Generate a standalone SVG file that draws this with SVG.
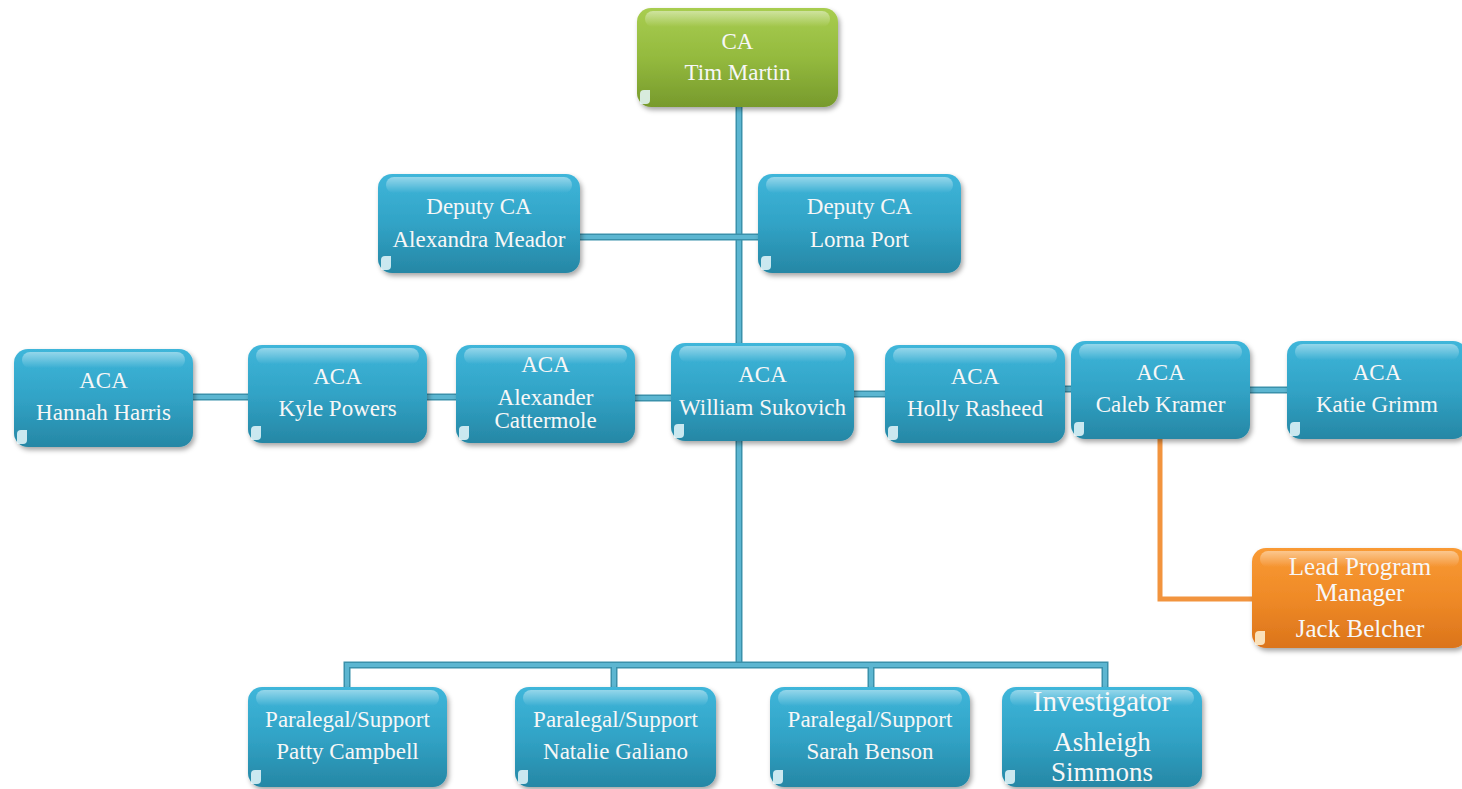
<svg xmlns="http://www.w3.org/2000/svg" xmlns:xlink="http://www.w3.org/1999/xlink" width="1462" height="789" viewBox="0 0 1462 789">
  <style>
    .box { stroke: none; filter: url(#shadow); }
    .blue { fill: url(#blueFill); }
    .green { fill: url(#greenFill); }
    .orange { fill: url(#orangeFill); }
    .gloss { fill: url(#gloss); }
    .glint { fill: #e8f8fc; opacity: 0.85; }
    .label { font-family: "Liberation Serif", "DejaVu Serif", serif; font-size: 23px; fill: #f7f7f7; text-anchor: middle; }
    .big { font-size: 29px; }
    .name-big { font-size: 27px; }
    .mid { font-size: 25px; }
    .wire-edge { fill: none; stroke: #3a91ab; stroke-width: 7; }
    .wire-core { fill: none; stroke: #5cb6d1; stroke-width: 4; }
    .wire-orange { fill: none; stroke: #f2943e; stroke-width: 5; }
  </style>
  <defs>
    <linearGradient id="blueFill" x1="0" y1="0" x2="0" y2="1">
      <stop offset="0" stop-color="#3fb6da"/>
      <stop offset="0.5" stop-color="#31a3c6"/>
      <stop offset="1" stop-color="#2687a5"/>
    </linearGradient>
    <linearGradient id="greenFill" x1="0" y1="0" x2="0" y2="1">
      <stop offset="0" stop-color="#a8cd50"/>
      <stop offset="0.5" stop-color="#94ba3e"/>
      <stop offset="1" stop-color="#779a2c"/>
    </linearGradient>
    <linearGradient id="orangeFill" x1="0" y1="0" x2="0" y2="1">
      <stop offset="0" stop-color="#f99a34"/>
      <stop offset="0.5" stop-color="#ef8a27"/>
      <stop offset="1" stop-color="#db741b"/>
    </linearGradient>
    <linearGradient id="gloss" x1="0" y1="0" x2="0" y2="1">
      <stop offset="0" stop-color="#ffffff" stop-opacity="0.45"/>
      <stop offset="1" stop-color="#ffffff" stop-opacity="0"/>
    </linearGradient>
    <filter id="shadow" x="-10%" y="-10%" width="125%" height="130%">
      <feDropShadow dx="2" dy="3" stdDeviation="2.5" flood-color="#000000" flood-opacity="0.35"/>
    </filter>
    <!-- connector geometry, drawn twice for a bevelled look -->
    <path id="w-trunk" d="M739,107 V665"/>
    <path id="w-deputy" d="M580,237 H758"/>
    <path id="w-a1" d="M193,397 H248"/>
    <path id="w-a2" d="M427,397 H456"/>
    <path id="w-a3" d="M635,398 H671"/>
    <path id="w-a4" d="M854,394 H885"/>
    <path id="w-a5" d="M1065,389 H1071"/>
    <path id="w-a6" d="M1250,390 H1287"/>
    <path id="w-bus" d="M347,687 V665 H1105 V687 M614,665 V687 M871,665 V687"/>
  </defs>

  <rect width="1462" height="789" fill="#ffffff"/>

  <g id="connectors">
    <use xlink:href="#w-trunk" class="wire-edge"/>
    <use xlink:href="#w-trunk" class="wire-core"/>
    <use xlink:href="#w-deputy" class="wire-edge"/>
    <use xlink:href="#w-deputy" class="wire-core"/>
    <use xlink:href="#w-a1" class="wire-edge"/>
    <use xlink:href="#w-a1" class="wire-core"/>
    <use xlink:href="#w-a2" class="wire-edge"/>
    <use xlink:href="#w-a2" class="wire-core"/>
    <use xlink:href="#w-a3" class="wire-edge"/>
    <use xlink:href="#w-a3" class="wire-core"/>
    <use xlink:href="#w-a4" class="wire-edge"/>
    <use xlink:href="#w-a4" class="wire-core"/>
    <use xlink:href="#w-a5" class="wire-edge"/>
    <use xlink:href="#w-a5" class="wire-core"/>
    <use xlink:href="#w-a6" class="wire-edge"/>
    <use xlink:href="#w-a6" class="wire-core"/>
    <use xlink:href="#w-bus" class="wire-edge"/>
    <use xlink:href="#w-bus" class="wire-core"/>
    <path class="wire-orange" d="M1160,439 V599 H1252"/>
  </g>

  <!-- top: CA -->
  <g id="ca-tim-martin">
    <rect class="box green" x="637" y="8" width="201" height="99" rx="14"/>
    <rect class="gloss" x="645" y="11" width="185" height="16" rx="8"/>
    <path class="glint" d="M640,104 v-10 a4,4 0 0 1 4,-4 h6 v10 a4,4 0 0 1 -4,4 z"/>
    <text class="label" x="737.5" y="49">CA</text>
    <text class="label" x="737.5" y="80">Tim Martin</text>
  </g>

  <!-- deputies -->
  <g id="deputy-alexandra-meador">
    <rect class="box blue" x="378" y="174" width="202" height="99" rx="14"/>
    <rect class="gloss" x="386" y="177" width="186" height="16" rx="8"/>
    <path class="glint" d="M381,270 v-10 a4,4 0 0 1 4,-4 h6 v10 a4,4 0 0 1 -4,4 z"/>
    <text class="label" x="479" y="214">Deputy CA</text>
    <text class="label" x="479" y="247">Alexandra Meador</text>
  </g>
  <g id="deputy-lorna-port">
    <rect class="box blue" x="758" y="174" width="203" height="99" rx="14"/>
    <rect class="gloss" x="766" y="177" width="187" height="16" rx="8"/>
    <path class="glint" d="M761,270 v-10 a4,4 0 0 1 4,-4 h6 v10 a4,4 0 0 1 -4,4 z"/>
    <text class="label" x="859.5" y="214">Deputy CA</text>
    <text class="label" x="859.5" y="247">Lorna Port</text>
  </g>

  <!-- ACA row -->
  <g id="aca-hannah-harris">
    <rect class="box blue" x="14" y="349" width="179" height="98" rx="14"/>
    <rect class="gloss" x="22" y="352" width="163" height="16" rx="8"/>
    <path class="glint" d="M17,444 v-10 a4,4 0 0 1 4,-4 h6 v10 a4,4 0 0 1 -4,4 z"/>
    <text class="label" x="103.5" y="388">ACA</text>
    <text class="label" x="103.5" y="420">Hannah Harris</text>
  </g>
  <g id="aca-kyle-powers">
    <rect class="box blue" x="248" y="345" width="179" height="98" rx="14"/>
    <rect class="gloss" x="256" y="348" width="163" height="16" rx="8"/>
    <path class="glint" d="M251,440 v-10 a4,4 0 0 1 4,-4 h6 v10 a4,4 0 0 1 -4,4 z"/>
    <text class="label" x="337.5" y="384">ACA</text>
    <text class="label" x="337.5" y="416">Kyle Powers</text>
  </g>
  <g id="aca-alexander-cattermole">
    <rect class="box blue" x="456" y="345" width="179" height="98" rx="14"/>
    <rect class="gloss" x="464" y="348" width="163" height="16" rx="8"/>
    <path class="glint" d="M459,440 v-10 a4,4 0 0 1 4,-4 h6 v10 a4,4 0 0 1 -4,4 z"/>
    <text class="label" x="545.5" y="372">ACA</text>
    <text class="label" x="545.5" y="405">Alexander</text>
    <text class="label" x="545.5" y="428">Cattermole</text>
  </g>
  <g id="aca-william-sukovich">
    <rect class="box blue" x="671" y="343" width="183" height="98" rx="14"/>
    <rect class="gloss" x="679" y="346" width="167" height="16" rx="8"/>
    <path class="glint" d="M674,438 v-10 a4,4 0 0 1 4,-4 h6 v10 a4,4 0 0 1 -4,4 z"/>
    <text class="label" x="762.5" y="382">ACA</text>
    <text class="label" x="762.5" y="415">William Sukovich</text>
  </g>
  <g id="aca-holly-rasheed">
    <rect class="box blue" x="885" y="345" width="180" height="98" rx="14"/>
    <rect class="gloss" x="893" y="348" width="164" height="16" rx="8"/>
    <path class="glint" d="M888,440 v-10 a4,4 0 0 1 4,-4 h6 v10 a4,4 0 0 1 -4,4 z"/>
    <text class="label" x="975" y="384">ACA</text>
    <text class="label" x="975" y="416">Holly Rasheed</text>
  </g>
  <g id="aca-caleb-kramer">
    <rect class="box blue" x="1071" y="341" width="179" height="98" rx="14"/>
    <rect class="gloss" x="1079" y="344" width="163" height="16" rx="8"/>
    <path class="glint" d="M1074,436 v-10 a4,4 0 0 1 4,-4 h6 v10 a4,4 0 0 1 -4,4 z"/>
    <text class="label" x="1160.5" y="380">ACA</text>
    <text class="label" x="1160.5" y="412">Caleb Kramer</text>
  </g>
  <g id="aca-katie-grimm">
    <rect class="box blue" x="1287" y="341" width="180" height="98" rx="14"/>
    <rect class="gloss" x="1295" y="344" width="164" height="16" rx="8"/>
    <path class="glint" d="M1290,436 v-10 a4,4 0 0 1 4,-4 h6 v10 a4,4 0 0 1 -4,4 z"/>
    <text class="label" x="1377" y="380">ACA</text>
    <text class="label" x="1377" y="412">Katie Grimm</text>
  </g>

  <!-- program manager -->
  <g id="lead-program-manager">
    <rect class="box orange" x="1252" y="548" width="215" height="100" rx="14"/>
    <rect class="gloss" x="1260" y="551" width="199" height="16" rx="8"/>
    <path class="glint" d="M1255,645 v-10 a4,4 0 0 1 4,-4 h6 v10 a4,4 0 0 1 -4,4 z" style="fill:#fff3d6"/>
    <text class="label mid" x="1360" y="575">Lead Program</text>
    <text class="label mid" x="1360" y="601">Manager</text>
    <text class="label mid" x="1360" y="637">Jack Belcher</text>
  </g>

  <!-- support staff -->
  <g id="paralegal-patty-campbell">
    <rect class="box blue" x="248" y="687" width="199" height="100" rx="14"/>
    <rect class="gloss" x="256" y="690" width="183" height="16" rx="8"/>
    <path class="glint" d="M251,784 v-10 a4,4 0 0 1 4,-4 h6 v10 a4,4 0 0 1 -4,4 z"/>
    <text class="label" x="347.5" y="727">Paralegal/Support</text>
    <text class="label" x="347.5" y="759">Patty Campbell</text>
  </g>
  <g id="paralegal-natalie-galiano">
    <rect class="box blue" x="515" y="687" width="201" height="100" rx="14"/>
    <rect class="gloss" x="523" y="690" width="185" height="16" rx="8"/>
    <path class="glint" d="M518,784 v-10 a4,4 0 0 1 4,-4 h6 v10 a4,4 0 0 1 -4,4 z"/>
    <text class="label" x="615.5" y="727">Paralegal/Support</text>
    <text class="label" x="615.5" y="759">Natalie Galiano</text>
  </g>
  <g id="paralegal-sarah-benson">
    <rect class="box blue" x="770" y="687" width="200" height="100" rx="14"/>
    <rect class="gloss" x="778" y="690" width="184" height="16" rx="8"/>
    <path class="glint" d="M773,784 v-10 a4,4 0 0 1 4,-4 h6 v10 a4,4 0 0 1 -4,4 z"/>
    <text class="label" x="870" y="727">Paralegal/Support</text>
    <text class="label" x="870" y="759">Sarah Benson</text>
  </g>
  <g id="investigator-ashleigh-simmons">
    <rect class="box blue" x="1002" y="687" width="200" height="100" rx="14"/>
    <rect class="gloss" x="1010" y="690" width="184" height="16" rx="8"/>
    <path class="glint" d="M1005,784 v-10 a4,4 0 0 1 4,-4 h6 v10 a4,4 0 0 1 -4,4 z"/>
    <text class="label big" x="1102" y="711">Investigator</text>
    <text class="label name-big" x="1102" y="751">Ashleigh</text>
    <text class="label name-big" x="1102" y="781">Simmons</text>
  </g>
</svg>
